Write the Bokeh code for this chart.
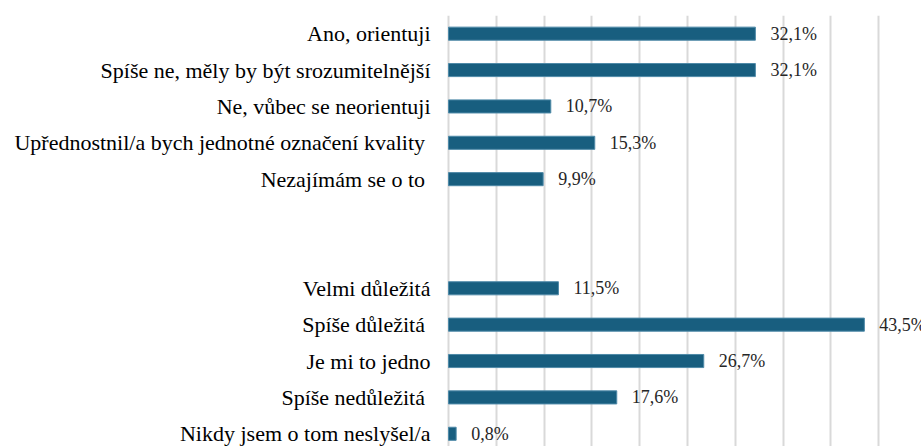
from bokeh.plotting import figure
from bokeh.models import Range1d, FixedTicker, ColumnDataSource
from bokeh.core.properties import value
from bokeh.embed import file_html
from bokeh.resources import INLINE

NB = "\u00a0"
categories = [
    "Ano, orientuji",
    "Spíše ne, měly by být srozumitelnější",
    "Ne, vůbec se neorientuji",
    "Upřednostnil/a bych jednotné označení kvality" + NB,
    "Nezajímám se o to" + NB,
    None,
    None,
    "Velmi důležitá",
    "Spíše důležitá" + NB,
    "Je mi to jedno",
    "Spíše nedůležitá" + NB,
    "Nikdy jsem o tom neslyšel/a",
]
values = [32.1, 32.1, 10.7, 15.3, 9.9, None, None, 11.5, 43.5, 26.7, 17.6, 0.8]
value_labels = ["32,1%", "32,1%", "10,7%", "15,3%", "9,9%", None, None,
                "11,5%", "43,5%", "26,7%", "17,6%", "0,8%"]
grid_ticks = [0, 5, 10, 15, 20, 25, 30, 35, 40, 45]

FONT = "Liberation Serif"

idx = [i for i, v in enumerate(values) if v is not None]
src = ColumnDataSource(dict(
    y=idx,
    zero=[0] * len(idx),
    v=[values[i] for i in idx],
    lab=[value_labels[i] for i in idx],
    cat=[categories[i] for i in idx],
))

PX_PER_UNIT = 9.56
p = figure(width=921, height=446, output_backend="svg", toolbar_location=None,
           x_range=Range1d(-448 / PX_PER_UNIT, (921 - 448) / PX_PER_UNIT),
           y_range=Range1d(11.35, -0.5),
           min_border_left=0, min_border_right=0, min_border_top=15, min_border_bottom=0)
p.outline_line_color = None
p.background_fill_color = "white"

p.hbar(y="y", left="zero", right="v", height=0.36, source=src,
       fill_color="#185E7F", line_color="#4F8AA8", line_width=1)
p.text(x="v", y="y", text="lab", source=src, x_offset=15,
       text_baseline="middle", text_align="left",
       text_font=value(FONT), text_font_size="18px",
       text_color="#262626")
p.text(x="zero", y="y", text="cat", source=src, x_offset=-18,
       text_baseline="middle", text_align="right",
       text_font=value(FONT), text_font_size="22px",
       text_color="#000000")

p.xaxis.visible = False
p.yaxis.visible = False
p.xgrid.ticker = FixedTicker(ticks=grid_ticks)
p.xgrid.grid_line_color = "#D9D9D9"
p.xgrid.grid_line_width = 2
p.ygrid.visible = False

open("out.html", "w").write(file_html(p, INLINE))
